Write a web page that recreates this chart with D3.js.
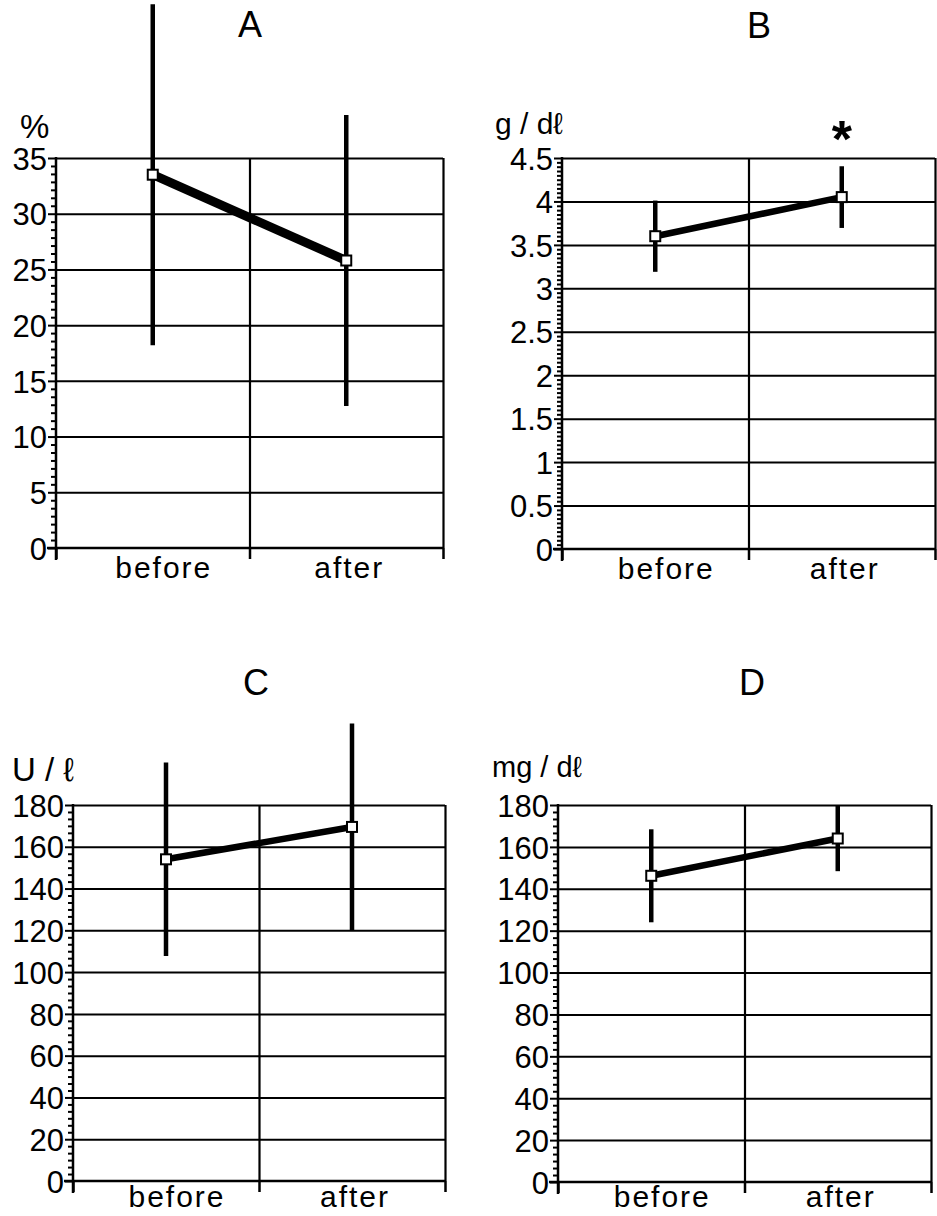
<!DOCTYPE html>
<html>
<head>
<meta charset="utf-8">
<script src="https://cdn.jsdelivr.net/npm/d3@7"></script>
<style>
  body { margin: 0; background: #fff; }
  svg { display: block; font-family: 'Liberation Sans', Arial, Helvetica, sans-serif; }
</style>
</head>
<body>
<div id="chart"></div>
<script>
const categories = ['before', 'after'];

// A: %
const pctMean = [33.5, 25.8];
const pctSD = [15.3, 13.05];
const pctTicks = [0, 5, 10, 15, 20, 25, 30, 35];

// B: g/dl
const gdlMean = [3.6, 4.05];
const gdlSD = [0.41, 0.355];
const gdlTicks = [0, 0.5, 1, 1.5, 2, 2.5, 3, 3.5, 4, 4.5];

// C: U/l
const ulMean = [154, 169.5];
const ulSD = [46.3, 49.5];
const ulTicks = [0, 20, 40, 60, 80, 100, 120, 140, 160, 180];

// D: mg/dl
const mgdlMean = [146.2, 164];
const mgdlSD = [22.2, 15.6];
const mgdlTicks = [0, 20, 40, 60, 80, 100, 120, 140, 160, 180];

const width = 937, height = 1216;

const svg = d3.select('#chart').append('svg')
  .attr('width', width)
  .attr('height', height);

// panel layout
const panels = [
  { title: 'A', unit: '%', mean: pctMean, sd: pctSD, ticks: pctTicks,
    left: 56, right: 443, top: 158, bottom: 548, minorDiv: 7, lineW: 9,
    titleX: 250, titleY: 37, unitX: 20, unitY: 138, unitSize: 33, labelPad: 9 },
  { title: 'B', unit: 'g / d\u2113', mean: gdlMean, sd: gdlSD, ticks: gdlTicks,
    left: 562, right: 935, top: 158, bottom: 549, minorDiv: 10, lineW: 6.5,
    titleX: 759, titleY: 38, unitX: 495, unitY: 134, unitSize: 30, labelPad: 9, star: 1 },
  { title: 'C', unit: 'U / \u2113', mean: ulMean, sd: ulSD, ticks: ulTicks,
    left: 73, right: 445, top: 805, bottom: 1181, minorDiv: 6, lineW: 6.5,
    titleX: 256, titleY: 695, unitX: 12, unitY: 781, unitSize: 33, labelPad: 5 },
  { title: 'D', unit: 'mg / d\u2113', mean: mgdlMean, sd: mgdlSD, ticks: mgdlTicks,
    left: 558, right: 931, top: 805, bottom: 1182, minorDiv: 6, lineW: 6.5,
    titleX: 752, titleY: 695, unitX: 492, unitY: 777, unitSize: 29, labelPad: 4 }
];

const labelShift = { before: 11, after: 3 };

panels.forEach(drawPanel);

function drawPanel(p) {
  const yMax = d3.max(p.ticks);
  const step = p.ticks[1] - p.ticks[0];

  const x = d3.scaleBand()
    .domain(categories)
    .range([p.left, p.right]);

  const xEdge = d3.scaleLinear()
    .domain([0, categories.length])
    .range([p.left, p.right]);

  const y = d3.scaleLinear()
    .domain([0, yMax])
    .range([p.bottom, p.top]);

  const g = svg.append('g').attr('class', 'panel');

  // horizontal grid lines
  g.append('g')
    .attr('transform', 'translate(' + p.left + ',0)')
    .call(d3.axisLeft(y).tickValues(p.ticks.slice(1))
      .tickSize(-(p.right - p.left)).tickFormat(''))
    .call(s => s.select('.domain').remove())
    .selectAll('line').attr('stroke', '#000').attr('stroke-width', 2);

  // vertical lines between categories and right border
  g.append('g')
    .attr('transform', 'translate(0,' + p.bottom + ')')
    .call(d3.axisBottom(xEdge).tickValues(d3.range(1, categories.length + 1))
      .tickSize(-(p.bottom - p.top)).tickFormat(''))
    .call(s => s.select('.domain').remove())
    .selectAll('line').attr('stroke', '#000').attr('stroke-width', 2.2);

  // minor ticks on y axis
  const nMinor = Math.round(yMax / step) * p.minorDiv;
  const minorVals = d3.range(0, nMinor + 1)
    .filter(i => i % p.minorDiv !== 0)
    .map(i => i * step / p.minorDiv);

  g.append('g')
    .attr('transform', 'translate(' + p.left + ',0)')
    .call(d3.axisLeft(y).tickValues(minorVals).tickSize(5).tickFormat(''))
    .call(s => s.select('.domain').remove())
    .selectAll('line').attr('stroke', '#000').attr('stroke-width', 2);

  // y axis with major ticks
  const yAxis = g.append('g')
    .attr('transform', 'translate(' + p.left + ',0)')
    .call(d3.axisLeft(y).tickValues(p.ticks).tickSize(8).tickPadding(1)
      .tickFormat(d3.format('')));
  yAxis.select('.domain').attr('stroke-width', 2.5).attr('d',
    'M0,' + (p.top - 1) + 'V' + (p.bottom + 12));
  yAxis.selectAll('line').attr('stroke-width', 2);
  yAxis.selectAll('text')
    .attr('font-size', 31)
    .attr('dy', '0.36em')
    .attr('fill', '#000');

  // x axis: edge ticks
  const xTicks = g.append('g')
    .attr('transform', 'translate(0,' + p.bottom + ')')
    .call(d3.axisBottom(xEdge).tickValues(d3.range(0, categories.length + 1))
      .tickSize(11).tickFormat(''));
  xTicks.select('.domain').attr('d',
    'M' + (p.left - 9) + ',0H' + p.right).attr('stroke-width', 2.5);
  xTicks.selectAll('line').attr('stroke-width', 2.5);

  // x axis: category labels
  const xLabels = g.append('g')
    .attr('transform', 'translate(0,' + p.bottom + ')')
    .call(d3.axisBottom(x).tickSize(0).tickPadding(p.labelPad));
  xLabels.select('.domain').remove();
  xLabels.selectAll('text')
    .attr('font-size', 30)
    .attr('letter-spacing', 2)
    .attr('dx', d => labelShift[d])
    .attr('fill', '#000');

  const pts = categories.map((c, i) => ({
    cat: c, mean: p.mean[i], sd: p.sd[i]
  }));

  // error bars
  g.append('g').selectAll('line')
    .data(pts).enter().append('line')
      .attr('x1', d => x(d.cat) + x.bandwidth() / 2)
      .attr('x2', d => x(d.cat) + x.bandwidth() / 2)
      .attr('y1', d => y(d.mean - d.sd))
      .attr('y2', d => y(d.mean + d.sd))
      .attr('stroke', '#000')
      .attr('stroke-width', 4.5);

  // mean line
  const line = d3.line()
    .x(d => x(d.cat) + x.bandwidth() / 2)
    .y(d => y(d.mean));

  g.append('path')
    .datum(pts)
    .attr('d', line)
    .attr('fill', 'none')
    .attr('stroke', '#000')
    .attr('stroke-width', p.lineW);

  // open square markers
  const ms = 10;
  g.append('g').selectAll('rect')
    .data(pts).enter().append('rect')
      .attr('x', d => x(d.cat) + x.bandwidth() / 2 - ms / 2)
      .attr('y', d => y(d.mean) - ms / 2)
      .attr('width', ms)
      .attr('height', ms)
      .attr('fill', '#fff')
      .attr('stroke', '#000')
      .attr('stroke-width', 2);

  // panel letter
  g.append('text')
    .attr('x', p.titleX)
    .attr('y', p.titleY)
    .attr('text-anchor', 'middle')
    .attr('font-size', 36)
    .text(p.title);

  // unit label
  g.append('text')
    .attr('x', p.unitX)
    .attr('y', p.unitY)
    .attr('font-size', p.unitSize)
    .text(p.unit);

  // significance mark
  if (p.star !== undefined) {
    g.append('text')
      .attr('x', x(categories[p.star]) + x.bandwidth() / 2)
      .attr('y', 157)
      .attr('text-anchor', 'middle')
      .attr('font-size', 52)
      .attr('font-weight', 'bold')
      .text('*');
  }
}
</script>
</body>
</html>
